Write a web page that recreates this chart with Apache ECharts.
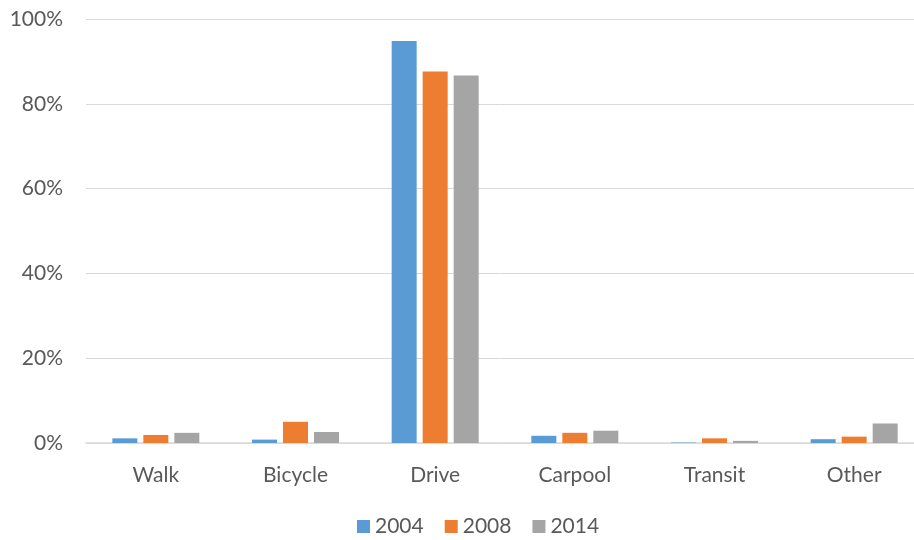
<!DOCTYPE html>
<html>
<head>
<meta charset="utf-8">
<script src="https://cdn.jsdelivr.net/npm/echarts@6/dist/echarts.min.js"></script>
<style>
  html, body { margin: 0; padding: 0; background: #fff; overflow: hidden; }
  #chart { width: 914px; height: 540px; }
</style>
</head>
<body>
<div id="chart"></div>
<script>
// Commute mode shares (percent of trips)
const categories = ['Walk', 'Bicycle', 'Drive', 'Carpool', 'Transit', 'Other'];
const years = ['2004', '2008', '2014'];
const share2004 = [1.1, 0.8, 94.8, 1.7, 0.1, 0.9];
const share2008 = [1.9, 5.0, 87.6, 2.4, 1.1, 1.5];
const share2014 = [2.4, 2.6, 86.7, 2.9, 0.5, 4.6];
const yTicks = [0, 20, 40, 60, 80, 100];

const colors = ['#5B9BD5', '#ED7D31', '#A5A5A5'];
const font = 'Lato, "Open Sans", "Liberation Sans", sans-serif';
const textColor = '#595959';

const chart = echarts.init(document.getElementById('chart'), null, { renderer: 'canvas' });
const seriesData = [share2004, share2008, share2014];

chart.setOption({
  animation: false,
  color: colors,
  textStyle: { fontFamily: font },
  // the plot runs slightly past the right edge of the canvas
  grid: { left: 86, width: 838, top: 19, height: 424, containLabel: false, outerBoundsMode: 'none' },
  legend: {
    data: years,
    top: 516,
    left: 357,
    padding: 0,
    itemWidth: 13,
    itemHeight: 13,
    itemGap: 21,
    icon: 'rect',
    textStyle: { color: textColor, fontSize: 21, fontFamily: font }
  },
  xAxis: {
    type: 'category',
    data: categories,
    axisTick: { show: false },
    axisLine: { lineStyle: { color: '#D9D9D9', width: 1.5 } },
    axisLabel: { color: textColor, fontSize: 21, margin: 22, fontFamily: font }
  },
  yAxis: {
    type: 'value',
    min: yTicks[0],
    max: yTicks[yTicks.length - 1],
    interval: yTicks[1] - yTicks[0],
    axisLine: { show: false },
    axisTick: { show: false },
    splitLine: { lineStyle: { color: '#D9D9D9', width: 1 } },
    axisLabel: { color: textColor, fontSize: 21, margin: 23, fontFamily: font, formatter: '{value}%' }
  },
  series: years.map((y, i) => ({
    name: y,
    type: 'bar',
    data: seriesData[i],
    barWidth: 25,
    barGap: '24%',
    itemStyle: { color: colors[i] }
  }))
});
</script>
</body>
</html>
